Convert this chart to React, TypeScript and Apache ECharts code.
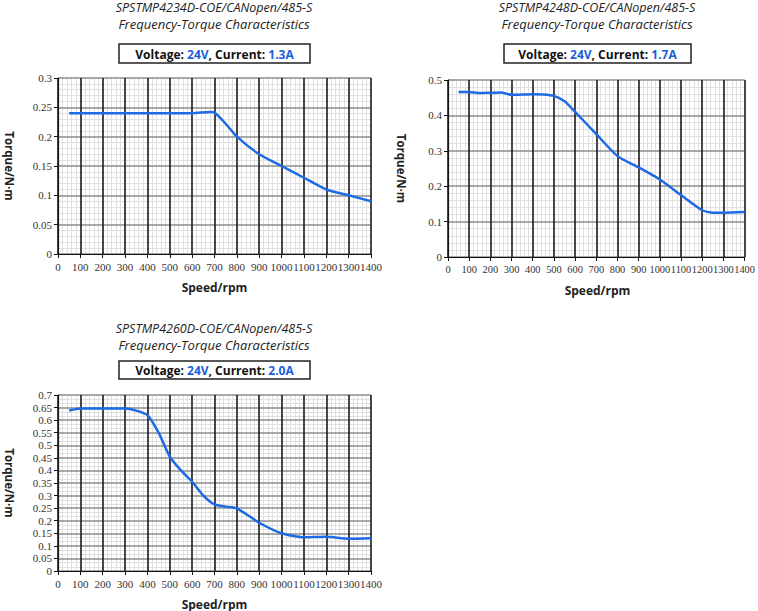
import React, { useEffect, useRef } from "react";
import * as echarts from "echarts";

// ---- data ----
const models = ["SPSTMP4234D-COE/CANopen/485-S", "SPSTMP4248D-COE/CANopen/485-S", "SPSTMP4260D-COE/CANopen/485-S"];
const subtitle = "Frequency-Torque Characteristics";
const voltages = ["24V", "24V", "24V"];
const currents = ["1.3A", "1.7A", "2.0A"];

const speed1 = [50, 100, 200, 300, 400, 500, 600, 680, 700, 750, 800, 900, 1000, 1100, 1200, 1300, 1400];
const torque1 = [0.24, 0.24, 0.24, 0.24, 0.24, 0.24, 0.24, 0.242, 0.241, 0.222, 0.2, 0.17, 0.15, 0.13, 0.11, 0.1, 0.09];

const speed2 = [50, 100, 150, 200, 250, 300, 400, 450, 500, 550, 600, 700, 800, 900, 1000, 1100, 1200, 1250, 1300, 1400];
const torque2 = [0.466, 0.466, 0.463, 0.464, 0.465, 0.458, 0.46, 0.459, 0.455, 0.44, 0.41, 0.347, 0.285, 0.253, 0.219, 0.175, 0.132, 0.125, 0.125, 0.127];

const speed3 = [50, 100, 200, 300, 350, 400, 450, 500, 550, 600, 650, 700, 750, 800, 900, 1000, 1100, 1200, 1300, 1400];
const torque3 = [0.638, 0.646, 0.646, 0.646, 0.638, 0.62, 0.55, 0.455, 0.4, 0.355, 0.3, 0.265, 0.256, 0.249, 0.192, 0.15, 0.134, 0.136, 0.128, 0.13];

const yMax = [0.3, 0.5, 0.7];
const yInterval = [0.05, 0.1, 0.05];
const yMinorSplits = [5, 5, 3];
const xMax = 1400;
const xInterval = 100;
const xMinorSplits = 5;
const xName = "Speed/rpm";
const yName = "Torque/N·m";

// ---- layout ----
const grids = [
  { left: 58, top: 78, width: 313, height: 176 },
  { left: 448, top: 80, width: 299, height: 177 },
  { left: 58, top: 395, width: 313, height: 176 },
];
const xLabelSize = [11, 10.4, 11];
const titleCx = [214, 597, 214];
const titleY = [7.5, 7.5, 328.5];
const boxes = [
  { x: 119, y: 44, w: 191, h: 19 },
  { x: 504, y: 44, w: 187, h: 19 },
  { x: 119, y: 361, w: 191, h: 18 },
];

const BLUE = "#1a5fd8";
const LINE = "#1d6ae5";
const TITLE_FONT = "Open Sans";

export default function App() {
  const ref = useRef<HTMLDivElement>(null);
  useEffect(() => {
    if (!ref.current) return;
    const chart = echarts.init(ref.current, null, { renderer: "svg" });
    const speeds = [speed1, speed2, speed3];
    const torques = [torque1, torque2, torque3];

    const xAxes: any[] = [];
    const yAxes: any[] = [];
    grids.forEach((_, i) => {
      xAxes.push({
        type: "value",
        gridIndex: i,
        position: "bottom",
        min: 0,
        max: xMax,
        interval: xInterval,
        z: 3,
        axisLine: { show: true, onZero: false, lineStyle: { color: "#111", width: 1.2 } },
        axisTick: { show: true, length: 4, lineStyle: { color: "#111" } },
        axisLabel: {
          margin: 7,
          fontFamily: "Liberation Serif",
          fontSize: xLabelSize[i],
          color: "#333",
          hideOverlap: false,
          showMinLabel: true,
          showMaxLabel: true,
          formatter: (v: number) => String(v),
        },
        splitLine: { show: true, lineStyle: { color: "#1a1a1a", width: 1.6 } },
      });
      yAxes.push({
        type: "value",
        gridIndex: i,
        position: "left",
        min: 0,
        max: yMax[i],
        interval: yInterval[i],
        z: 2,
        axisLine: { show: true, onZero: false, lineStyle: { color: "#111", width: 1.2 } },
        axisTick: { show: true, length: 4, lineStyle: { color: "#111" } },
        axisLabel: { margin: 6, fontFamily: "Liberation Serif", fontSize: 11, color: "#333", formatter: (v: number) => String(+v.toFixed(3)) },
        splitLine: { show: true, lineStyle: { color: "#8c8c8c", width: 1.6 } },
      });
    });
    // minor grid axes (drawn beneath the major grid)
    grids.forEach((_, i) => {
      xAxes.push({
        type: "value",
        gridIndex: i,
        position: "top",
        min: 0,
        max: xMax,
        interval: xInterval,
        z: 0,
        axisLine: { show: false },
        axisTick: { show: false },
        axisLabel: { show: false },
        splitLine: { show: false },
        minorTick: { show: false, splitNumber: xMinorSplits },
        minorSplitLine: { show: true, lineStyle: { color: "#e0e0e0", width: 1 } },
      });
      yAxes.push({
        type: "value",
        gridIndex: i,
        position: "right",
        min: 0,
        max: yMax[i],
        interval: yInterval[i],
        z: 0,
        axisLine: { show: false },
        axisTick: { show: false },
        axisLabel: { show: false },
        splitLine: { show: false },
        minorTick: { show: false, splitNumber: yMinorSplits[i] },
        minorSplitLine: { show: true, lineStyle: { color: "#e0e0e0", width: 1 } },
      });
    });

    const series = grids.map((_, i) => ({
      type: "line",
      xAxisIndex: i,
      yAxisIndex: i,
      data: speeds[i].map((s, j) => [s, torques[i][j]]),
      smooth: 0.2,
      symbol: "none",
      lineStyle: { color: LINE, width: 2.5 },
      z: 5,
    }));

    const graphic: any[] = [];
    grids.forEach((g, i) => {
      graphic.push({
        type: "text",
        x: titleCx[i],
        y: titleY[i],
        style: {
          text: models[i],
          fontFamily: TITLE_FONT,
          fontStyle: "italic",
          fontSize: 12.5,
          lineHeight: 14,
          fill: "#222",
          textAlign: "center",
          textVerticalAlign: "middle",
        },
      });
      graphic.push({
        type: "text",
        x: titleCx[i],
        y: titleY[i] + 16.5,
        style: {
          text: subtitle,
          fontFamily: TITLE_FONT,
          fontStyle: "italic",
          fontSize: 13,
          lineHeight: 14,
          fill: "#222",
          textAlign: "center",
          textVerticalAlign: "middle",
        },
      });
      const b = boxes[i];
      graphic.push({
        type: "rect",
        shape: { x: b.x, y: b.y, width: b.w, height: b.h },
        style: { fill: "#fff", stroke: "#222", lineWidth: 1.5 },
      });
      graphic.push({
        type: "text",
        x: b.x + b.w / 2,
        y: b.y + b.h / 2 + 0.5,
        style: {
          text: `{k|Voltage: }{v|${voltages[i]}}{k|, Current: }{v|${currents[i]}}`,
          textAlign: "center",
          textVerticalAlign: "middle",
          rich: {
            k: { fontFamily: TITLE_FONT, fontWeight: "bold", fontSize: 12, fill: "#111", color: "#111" },
            v: { fontFamily: TITLE_FONT, fontWeight: "bold", fontSize: 12, fill: BLUE, color: BLUE },
          },
        },
      });
      graphic.push({
        type: "text",
        x: g.left + g.width / 2,
        y: g.top + g.height + 33,
        style: {
          text: xName,
          fontFamily: TITLE_FONT,
          fontWeight: "bold",
          fontSize: 12,
          fill: "#222",
          textAlign: "center",
          textVerticalAlign: "middle",
        },
      });
      graphic.push({
        type: "text",
        x: i === 1 ? 401 : 9,
        y: g.top + g.height / 2,
        rotation: -Math.PI / 2,
        style: {
          text: yName,
          fontFamily: TITLE_FONT,
          fontWeight: "bold",
          fontSize: 11.5,
          fill: "#222",
          textAlign: "center",
          textVerticalAlign: "middle",
        },
      });
    });

    chart.setOption({
      animation: false,
      backgroundColor: "#fff",
      grid: grids.map((g) => ({ ...g, containLabel: false })),
      xAxis: xAxes,
      yAxis: yAxes,
      series,
      graphic,
    } as any);
    return () => chart.dispose();
  }, []);
  return (
    <div
      ref={ref}
      style={{ position: "fixed", left: 0, top: 0, width: 758, height: 611, background: "#fff" }}
    />
  );
}
